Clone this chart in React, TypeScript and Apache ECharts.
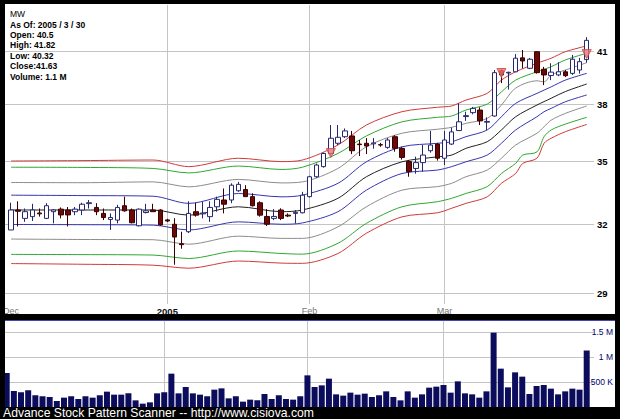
import React, { useEffect, useRef } from "react";
import * as echarts from "echarts";

// ---- trading days ----
const DEC_2004 = [1, 2, 3, 6, 7, 8, 9, 10, 13, 14, 15, 16, 17, 20, 21, 22, 23, 27, 28, 29, 30, 31];
const JAN_2005 = [3, 4, 5, 6, 7, 10, 11, 12, 13, 14, 18, 19, 20, 21, 24, 25, 26, 27, 28, 31];
const FEB_2005 = [1, 2, 3, 4, 7, 8, 9, 10, 11, 14, 15, 16, 17, 18, 22, 23, 24, 25, 28];
const MAR_2005 = [1, 2, 3, 4, 7, 8, 9, 10, 11, 14, 15, 16, 17, 18, 21, 22, 23, 24, 28, 29, 30];

// ---- prices ----
const OPEN = [
  31.74, 32.66, 32.27, 32.35, 32.52, 32.27, 32.58, 32.7, 32.66, 32.58, 32.66, 32.96, 32.78, 32.5, 32.22, 32.19, 32.86, 32.66, 31.93, 32.54, 32.66, 32.66,
  32.2, 32.0, 31.12, 31.66, 32.58, 32.48, 32.35, 32.81, 33.13, 33.13, 33.57, 33.63, 33.29, 33.0, 32.36, 32.27, 32.66, 32.42, 32.5, 32.53,
  33.29, 34.25, 34.75, 35.41, 35.93, 36.27, 36.31, 35.89, 35.93, 35.9, 35.86, 35.72, 36.27, 35.67, 35.0, 34.66, 34.95, 35.55, 35.89,
  35.17, 35.89, 36.59, 37.33, 37.54, 37.68, 37.03, 37.36, 39.86, 39.73, 39.8, 40.6, 40.0, 40.96, 39.94, 39.59, 39.62, 39.8, 39.71, 39.9, 40.5,
];
const CLOSE = [
  32.66, 32.6, 32.58, 32.66, 32.48, 32.86, 32.66, 32.43, 32.43, 32.7, 32.93, 33.0, 32.58, 32.31, 32.31, 32.78, 32.62, 32.07, 32.7, 32.62, 32.58, 31.97,
  32.15, 31.42, 31.08, 32.5, 32.42, 32.52, 32.78, 33.16, 32.93, 33.84, 33.88, 33.29, 32.86, 32.42, 32.0, 32.36, 32.27, 32.38, 32.55, 33.36,
  34.25, 34.83, 35.41, 36.19, 36.24, 36.57, 35.55, 35.86, 35.79, 35.95, 35.84, 36.1, 35.67, 35.21, 34.5, 34.95, 35.33, 35.84, 35.17,
  36.1, 36.52, 37.05, 37.38, 37.77, 37.1, 37.07, 39.75, 39.62, 39.77, 40.58, 40.42, 40.52, 39.75, 39.62, 39.78, 39.8, 39.58, 40.52, 40.38, 41.63,
];
const LOW = [
  31.74, 31.9, 32.11, 32.15, 32.35, 32.24, 32.04, 32.27, 31.9, 32.42, 32.42, 32.73, 32.42, 32.19, 31.74, 32.04, 32.58, 32.04, 31.9, 32.5, 32.58, 31.93,
  32.1, 30.2, 30.9, 31.6, 32.35, 32.27, 32.11, 32.58, 32.5, 32.98, 33.52, 33.27, 32.82, 32.35, 31.92, 32.19, 32.19, 32.33, 32.04, 32.5,
  33.25, 34.2, 34.7, 35.35, 35.84, 36.2, 35.38, 35.28, 35.38, 35.65, 35.75, 35.65, 35.5, 35.1, 34.25, 34.4, 34.5, 35.45, 35.05,
  34.83, 35.84, 36.57, 37.1, 37.45, 36.88, 36.62, 37.32, 39.16, 38.8, 39.78, 40.0, 39.95, 39.7, 39.05, 39.33, 39.55, 39.5, 39.62, 39.7, 40.32,
];
const HIGH = [
  33.0, 33.07, 32.73, 32.95, 32.73, 32.98, 32.7, 32.78, 32.8, 32.8, 33.0, 33.13, 32.98, 32.73, 32.5, 32.9, 33.29, 32.73, 32.73, 32.95, 32.95, 32.7,
  32.25, 32.28, 31.66, 33.07, 33.0, 33.05, 33.07, 33.29, 33.68, 33.93, 34.0, 33.84, 33.45, 33.07, 32.7, 32.7, 32.74, 32.5, 32.66, 33.52,
  34.3, 34.9, 35.45, 36.88, 36.88, 36.7, 36.57, 36.1, 36.2, 36.2, 35.95, 36.2, 36.35, 35.75, 35.08, 35.25, 35.84, 36.57, 35.95,
  36.57, 36.75, 38.05, 37.59, 37.85, 37.83, 37.29, 39.9, 39.94, 39.8, 40.82, 41.06, 40.6, 40.98, 40.08, 40.29, 40.35, 39.9, 40.77, 40.6, 41.82,
];
const VOLUME = [
  680000, 320000, 295000, 335000, 235000, 215000, 200000, 120000, 187000, 215000, 160000, 215000, 187000, 235000, 307000, 247000, 247000, 273000, 133000, 67000, 93000, 273000,
  295000, 667000, 273000, 400000, 273000, 247000, 215000, 347000, 373000, 173000, 215000, 107000, 147000, 133000, 260000, 160000, 235000, 160000, 147000, 215000,
  633000, 400000, 433000, 567000, 253000, 227000, 287000, 247000, 267000, 200000, 235000, 313000, 200000, 133000, 313000, 187000, 253000, 387000, 407000,
  440000, 287000, 513000, 273000, 253000, 187000, 313000, 1487000, 767000, 393000, 693000, 607000, 260000, 420000, 440000, 367000, 253000, 313000, 367000, 347000, 1130000,
];

// ---- envelope lines: [day index, price] ----
const RED_UPPER = [[0, 35.03], [10, 35.05], [20, 35.08], [25, 34.75], [32, 35.17], [38, 35.0], [41, 35.08], [46, 35.84], [50, 36.88], [55, 37.59], [60, 37.83], [62, 37.9], [64, 38.22], [67, 38.59], [69, 39.33], [71, 39.8], [74, 40.29], [76, 40.58], [78, 40.96], [81, 41.3]];
const GREEN_UPPER = [[0, 34.72], [10, 34.71], [20, 34.66], [25, 34.44], [32, 34.78], [38, 34.61], [41, 34.72], [46, 35.41], [50, 36.31], [55, 37.05], [60, 37.29], [62, 37.36], [64, 37.68], [67, 38.0], [69, 38.67], [71, 39.33], [74, 39.8], [76, 40.09], [78, 40.48], [81, 40.87]];
const GRAY_UPPER = [[0, 33.97], [10, 33.96], [20, 34.0], [25, 33.76], [32, 34.12], [38, 33.95], [41, 34.0], [46, 34.66], [50, 35.75], [55, 36.45], [60, 36.66], [62, 36.76], [64, 36.97], [67, 37.23], [69, 37.95], [71, 38.88], [74, 39.29], [75, 39.23], [76, 39.62], [78, 39.9], [81, 40.32]];
const BLUE_UPPER = [[0, 33.36], [10, 33.34], [20, 33.31], [25, 32.97], [32, 33.44], [38, 33.28], [41, 33.36], [46, 33.93], [50, 34.99], [55, 35.75], [60, 35.93], [62, 36.01], [64, 36.27], [67, 36.62], [69, 37.32], [71, 38.04], [74, 38.59], [76, 38.95], [78, 39.33], [81, 39.71]];
const CENTER = [[0, 32.66], [10, 32.66], [20, 32.66], [25, 32.42], [32, 32.81], [38, 32.58], [41, 32.66], [46, 33.21], [50, 34.25], [55, 34.99], [60, 35.24], [62, 35.33], [64, 35.67], [67, 36.01], [69, 36.62], [71, 37.32], [74, 37.95], [76, 38.32], [78, 38.69], [81, 39.11]];
const BLUE_LOWER = [[0, 31.99], [10, 31.98], [20, 31.96], [25, 31.74], [32, 32.11], [38, 32.0], [41, 32.06], [46, 32.58], [50, 33.6], [55, 34.41], [60, 34.58], [62, 34.75], [64, 34.99], [67, 35.33], [69, 35.93], [71, 36.62], [74, 37.32], [75, 37.59], [76, 37.77], [78, 38.13], [81, 38.5]];
const GRAY_LOWER = [[0, 31.33], [10, 31.31], [20, 31.3], [25, 31.1], [32, 31.46], [38, 31.36], [41, 31.36], [46, 31.88], [50, 32.81], [55, 33.6], [60, 33.77], [62, 33.93], [64, 34.25], [67, 34.58], [69, 35.17], [71, 35.84], [74, 36.45], [75, 36.79], [76, 37.14], [78, 37.5], [81, 37.9]];
const GREEN_LOWER = [[0, 30.65], [10, 30.64], [20, 30.62], [25, 30.47], [32, 30.8], [38, 30.69], [41, 30.66], [46, 31.14], [50, 32.04], [55, 32.81], [60, 33.05], [62, 33.21], [64, 33.44], [67, 33.77], [69, 34.41], [71, 34.91], [72, 35.33], [74, 35.49], [75, 36.27], [76, 36.62], [78, 36.93], [81, 37.29]];
const RED_LOWER = [[0, 30.25], [10, 30.22], [20, 30.18], [25, 30.05], [32, 30.36], [38, 30.27], [41, 30.26], [46, 30.69], [50, 31.59], [55, 32.34], [60, 32.53], [62, 32.74], [64, 32.97], [67, 33.28], [69, 33.93], [71, 34.41], [72, 34.91], [74, 35.17], [75, 35.93], [76, 36.19], [78, 36.53], [81, 36.91]];

// ---- pattern signals (down triangles) ----
const SIGNALS = [[45, 35.43], [69, 39.73], [81, 40.82]];

// ---- axes ----
const PRICE_TICKS = [29, 32, 35, 38, 41];
const PRICE_MIN = 28.55;
const PRICE_MAX = 43.79;
const VOLUME_TICKS = [500000, 1000000, 1500000];
const VOLUME_MAX = 1740000;

const INFO_LINES = ["MW", "As Of: 2005 / 3 / 30", "Open: 40.5", "High: 41.82", "Low: 40.32", "Close:41.63", "Volume: 1.1 M"];
const FOOTER = "Advance Stock Pattern Scanner -- http://www.cisiova.com";

const MONTHS = [
  { year: 2004, month: 12, label: "Dec", days: DEC_2004 },
  { year: 2005, month: 1, label: "2005", days: JAN_2005 },
  { year: 2005, month: 2, label: "Feb", days: FEB_2005 },
  { year: 2005, month: 3, label: "Mar", days: MAR_2005 },
];

const CATEGORIES: string[] = [];
const MONTH_LABEL: Record<number, string> = {};
MONTHS.forEach((m) => {
  MONTH_LABEL[CATEGORIES.length] = m.label;
  m.days.forEach((d) =>
    CATEGORIES.push(`${m.year}-${String(m.month).padStart(2, "0")}-${String(d).padStart(2, "0")}`)
  );
});

const FONT = "'Liberation Sans', Arial, sans-serif";
const GRID_COLOR = "#c4c4c4";
const L = Math.log;

function buildOption() {
  const bands = [
    { data: RED_UPPER, color: "#d03a3a" },
    { data: GREEN_UPPER, color: "#2fa82f" },
    { data: GRAY_UPPER, color: "#8c8c8c" },
    { data: BLUE_UPPER, color: "#3535b0" },
    { data: CENTER, color: "#202020" },
    { data: BLUE_LOWER, color: "#3535b0" },
    { data: GRAY_LOWER, color: "#8c8c8c" },
    { data: GREEN_LOWER, color: "#2fa82f" },
    { data: RED_LOWER, color: "#d03a3a" },
  ];
  const isMonthStart = (idx: number) => MONTH_LABEL[idx] !== undefined;
  const splitInterval = (idx: number) => idx > 0 && isMonthStart(idx);

  const plotLeft = 6.7;
  const plotWidth = 580;
  const frameLeft = 5;
  const frameWidth = 589;

  const graphic: any[] = [
    { type: "rect", z: -10, silent: true, shape: { x: 5, y: 4, width: 610, height: 310 }, style: { fill: "#ffffff" } },
    { type: "rect", z: -10, silent: true, shape: { x: 5, y: 320, width: 610, height: 87 }, style: { fill: "#ffffff" } },
    { type: "line", z: 90, silent: true, shape: { x1: 5, y1: 320.5, x2: 615, y2: 320.5 }, style: { stroke: "#4444bb", lineWidth: 1 } },
    { type: "rect", z: 100, silent: true, shape: { x: 0, y: 0, width: 5, height: 419 }, style: { fill: "#000000" } },
    { type: "rect", z: 100, silent: true, shape: { x: 615, y: 0, width: 5, height: 419 }, style: { fill: "#000000" } },
  ];
  INFO_LINES.forEach((t, k) => {
    graphic.push({
      type: "text",
      z: 100,
      silent: true,
      x: 10,
      y: 14.2 + k * 10.4,
      style: {
        text: t,
        fill: "#000",
        font: `${k === 0 ? "normal" : "bold"} 8.5px ${FONT}`,
        verticalAlign: "middle",
        align: "left",
      },
    });
  });
  graphic.push({
    type: "text",
    z: 100,
    silent: true,
    x: 3,
    y: 413,
    style: { text: FOOTER, fill: "#ffffff", font: `12.2px ${FONT}`, verticalAlign: "middle", align: "left" },
  });

  return {
    animation: false,
    backgroundColor: "#000000",
    textStyle: { fontFamily: FONT },
    graphic,
    grid: [
      { left: frameLeft, top: 5, width: frameWidth, height: 299 },
      { left: plotLeft, top: 5, width: plotWidth, height: 299 },
      { left: frameLeft, top: 320, width: frameWidth, height: 87 },
      { left: plotLeft, top: 320, width: plotWidth, height: 87 },
    ],
    xAxis: [
      { gridIndex: 0, type: "value", min: 0, max: 1, show: false },
      {
        gridIndex: 1,
        type: "category",
        data: CATEGORIES,
        boundaryGap: false,
        axisLine: { show: false },
        axisTick: { show: false },
        axisLabel: {
          interval: (idx: number) => isMonthStart(idx),
          formatter: (_v: string, idx: number) => {
            const lab = MONTH_LABEL[idx];
            if (!lab) return "";
            return /^\d+$/.test(lab) ? `{y|${lab}}` : `{m|${lab}}`;
          },
          margin: 2,
          rich: {
            y: { fontSize: 9.5, fontWeight: "bold", color: "#111", fontFamily: FONT },
            m: { fontSize: 9, color: "#777", fontFamily: FONT },
          },
        },
        splitLine: { show: true, interval: splitInterval, lineStyle: { color: GRID_COLOR, width: 1 } },
      },
      { gridIndex: 2, type: "value", min: 0, max: 1, show: false },
      {
        gridIndex: 3,
        type: "category",
        data: CATEGORIES,
        boundaryGap: false,
        axisLine: { show: false },
        axisTick: { show: false },
        axisLabel: { show: false },
        splitLine: { show: true, interval: splitInterval, lineStyle: { color: GRID_COLOR, width: 1 } },
      },
    ],
    yAxis: [
      {
        gridIndex: 0,
        type: "value",
        position: "right",
        min: L(PRICE_MIN),
        max: L(PRICE_MAX),
        axisLine: { show: false },
        axisTick: { show: false, customValues: PRICE_TICKS.map(L) },
        axisLabel: {
          customValues: PRICE_TICKS.map(L),
          formatter: (v: number) => String(Math.round(Math.exp(v))),
          margin: 3,
          fontSize: 9.5,
          fontWeight: "bold",
          color: "#000",
          fontFamily: FONT,
        },
        splitLine: { show: true, lineStyle: { color: GRID_COLOR, width: 1 } },
      },
      { gridIndex: 1, type: "value", min: L(PRICE_MIN), max: L(PRICE_MAX), show: false },
      {
        gridIndex: 2,
        type: "value",
        position: "right",
        min: 0,
        max: VOLUME_MAX,
        axisLine: { show: false },
        axisTick: { show: false, customValues: VOLUME_TICKS },
        axisLabel: {
          customValues: VOLUME_TICKS,
          formatter: (v: number) => (v >= 1000000 ? `${v / 1000000} M` : `${v / 1000} K`),
          align: "right",
          margin: 19,
          fontSize: 8.5,
          color: "#000070",
          fontFamily: FONT,
        },
        splitLine: { show: true, lineStyle: { color: GRID_COLOR, width: 1 } },
      },
      { gridIndex: 3, type: "value", min: 0, max: VOLUME_MAX, show: false },
    ],
    series: [
      ...bands.map((b) => ({
        type: "line",
        xAxisIndex: 1,
        yAxisIndex: 1,
        data: b.data.map(([i, p]) => [i, L(p)]),
        symbol: "none",
        smooth: 0.3,
        silent: true,
        lineStyle: { color: b.color, width: 1 },
        z: 2,
      })),
      {
        type: "candlestick",
        xAxisIndex: 1,
        yAxisIndex: 1,
        data: CLOSE.map((c, i) => [L(OPEN[i]), L(c), L(LOW[i]), L(HIGH[i])]),
        barWidth: 5,
        clip: false,
        silent: true,
        itemStyle: {
          color: "#ffffff",
          color0: "#6b0808",
          borderColor: "#27276f",
          borderColor0: "#3a0000",
          borderWidth: 1,
        },
        z: 3,
      },
      {
        type: "scatter",
        xAxisIndex: 1,
        yAxisIndex: 1,
        data: SIGNALS.map(([i, p]) => [i, L(p)]),
        symbol: "triangle",
        symbolRotate: 180,
        symbolSize: 9,
        silent: true,
        itemStyle: { color: "#f07272", borderColor: "#c04848", borderWidth: 1 },
        z: 4,
      },
      {
        type: "bar",
        xAxisIndex: 3,
        yAxisIndex: 3,
        data: VOLUME,
        barWidth: 6,
        clip: false,
        silent: true,
        itemStyle: { color: "#0c0c5c" },
      },
    ],
  };
}

export default function App() {
  const ref = useRef<HTMLDivElement>(null);
  useEffect(() => {
    if (!ref.current) return;
    const chart = echarts.init(ref.current, undefined, { renderer: "svg" });
    chart.setOption(buildOption() as any);
    return () => chart.dispose();
  }, []);
  return (
    <div
      ref={ref}
      style={{ position: "absolute", left: 0, top: 0, width: 620, height: 419, background: "#000" }}
    />
  );
}
